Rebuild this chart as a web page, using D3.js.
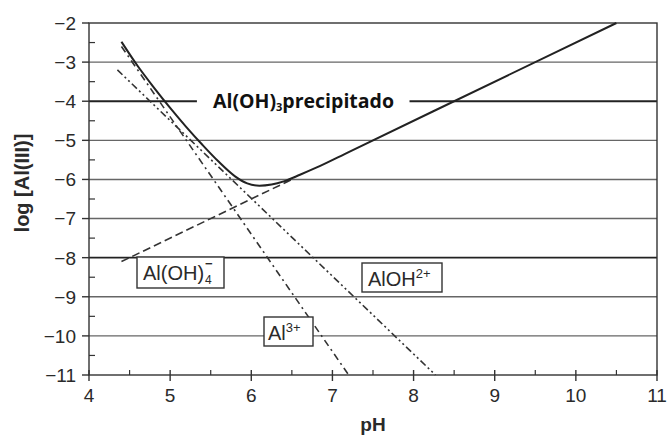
<!DOCTYPE html>
<html>
<head>
<meta charset="utf-8">
<script src="https://cdn.jsdelivr.net/npm/d3@7"></script>
<style>
  body { margin: 0; background: #fff; }
  svg { display: block; }
</style>
</head>
<body>
<svg width="668" height="436"></svg>
<script>
// data
var phTicks = [4, 5, 6, 7, 8, 9, 10, 11];
var phMinor = [4.5, 5.5, 6.5, 7.5, 8.5, 9.5, 10.5];
var logTicks = [-2, -3, -4, -5, -6, -7, -8, -9, -10, -11];
var logMinor = [-2.5, -3.5, -4.5, -5.5, -6.5, -7.5, -8.5, -9.5, -10.5];

// total solubility (solid)
var totalPH = [4.4, 4.6, 4.8, 5.0, 5.2, 5.4, 5.6, 5.8, 5.95, 6.1, 6.25, 6.4, 6.6, 6.8, 7.2, 10.5];
var totalLog = [-2.48, -3.1, -3.65, -4.17, -4.66, -5.12, -5.55, -5.92, -6.1, -6.16, -6.13, -6.05, -5.88, -5.7, -5.3, -2];
// Al3+ (dash-dot)
var al3PH = [4.4, 7.2];
var al3Log = [-2.6, -11];
// AlOH2+ (dash-dot-dot)
var aloh2PH = [4.35, 8.27];
var aloh2Log = [-3.2, -11];
// Al(OH)4- (dashed)
var aloh4PH = [4.4, 6.5];
var aloh4Log = [-8.1, -6.0];

var svg = d3.select("svg");
var x = d3.scaleLinear().domain([4, 11]).range([89, 657]);
var y = d3.scaleLinear().domain([-11, -2]).range([375, 23]);

var ink = "#2a2a2a";
var lf = "Liberation Sans, Arial, sans-serif";
var fmt = function(d) { return d < 0 ? "\u2212" + Math.abs(d) : d; };

// gridlines
logTicks.slice(1, -1).forEach(function(d) {
  var heavy = d === -4 || d === -8;
  var segs = d === -4 ? [[4, 5.33], [7.95, 11]] : [[4, 11]];
  segs.forEach(function(s) {
    svg.append("line")
      .attr("x1", x(s[0])).attr("x2", x(s[1]))
      .attr("y1", y(d)).attr("y2", y(d))
      .attr("stroke", heavy ? "#222" : "#666")
      .attr("stroke-width", heavy ? (d === -4 ? 2 : 1.8) : 1.4);
  });
});

// frame
svg.append("rect")
  .attr("x", x(4)).attr("y", y(-2))
  .attr("width", x(11) - x(4)).attr("height", y(-11) - y(-2))
  .attr("fill", "none").attr("stroke", "#333").attr("stroke-width", 1.4);

// y ticks
var ya = svg.append("g");
ya.selectAll(".maj").data(logTicks).join("line")
  .attr("x1", x(4) - 7).attr("x2", x(4))
  .attr("y1", function(d) { return y(d); }).attr("y2", function(d) { return y(d); })
  .attr("stroke", "#333").attr("stroke-width", 1.4);
ya.selectAll(".min").data(logMinor).join("line")
  .attr("x1", x(4)).attr("x2", x(4) + 6)
  .attr("y1", function(d) { return y(d); }).attr("y2", function(d) { return y(d); })
  .attr("stroke", "#333").attr("stroke-width", 1.2);
ya.selectAll("text").data(logTicks).join("text")
  .attr("x", x(4) - 13).attr("y", function(d) { return y(d); })
  .attr("dy", "0.36em").attr("text-anchor", "end")
  .attr("font-family", lf).attr("font-size", 19)
  .attr("fill", ink).text(fmt);

// x ticks
var xa = svg.append("g");
xa.selectAll(".maj").data(phTicks).join("line")
  .attr("x1", function(d) { return x(d); }).attr("x2", function(d) { return x(d); })
  .attr("y1", y(-11) - 5).attr("y2", y(-11) + 6)
  .attr("stroke", "#333").attr("stroke-width", 1.4);
xa.selectAll(".min").data(phMinor).join("line")
  .attr("x1", function(d) { return x(d); }).attr("x2", function(d) { return x(d); })
  .attr("y1", y(-11) - 5).attr("y2", y(-11))
  .attr("stroke", "#333").attr("stroke-width", 1.2);
xa.selectAll("text").data(phTicks).join("text")
  .attr("x", function(d) { return x(d); }).attr("y", 402)
  .attr("text-anchor", "middle")
  .attr("font-family", lf).attr("font-size", 19)
  .attr("fill", ink).text(fmt);

// axis titles
svg.append("text")
  .attr("x", x(7.5)).attr("y", 431).attr("text-anchor", "middle")
  .attr("font-family", lf).attr("font-size", 19)
  .attr("font-weight", "bold").attr("fill", ink).text("pH");
svg.append("text")
  .attr("transform", "translate(29,183) rotate(-90)").attr("text-anchor", "middle")
  .attr("font-family", lf).attr("font-size", 20)
  .attr("font-weight", "bold").attr("fill", ink).text("log [Al(III)]");

// curves
function pts(a, b) { return a.map(function(v, i) { return [v, b[i]]; }); }
var line = d3.line()
  .x(function(d) { return x(d[0]); })
  .y(function(d) { return y(d[1]); })
  .curve(d3.curveMonotoneX);

svg.append("path").datum(pts(aloh4PH, aloh4Log)).attr("d", line)
  .attr("fill", "none").attr("stroke", "#333").attr("stroke-width", 1.6)
  .attr("stroke-dasharray", "8,4");
svg.append("path").datum(pts(al3PH, al3Log)).attr("d", line)
  .attr("fill", "none").attr("stroke", "#333").attr("stroke-width", 1.6)
  .attr("stroke-dasharray", "7,4,2,4");
svg.append("path").datum(pts(aloh2PH, aloh2Log)).attr("d", line)
  .attr("fill", "none").attr("stroke", "#333").attr("stroke-width", 1.6)
  .attr("stroke-dasharray", "7,3,2,3,2,3");
svg.append("path").datum(pts(totalPH, totalLog)).attr("d", line)
  .attr("fill", "none").attr("stroke", "#222").attr("stroke-width", 2);

// precipitate label
var pt = svg.append("text")
  .attr("x", 213).attr("y", 108)
  .attr("font-family", "Open Sans, sans-serif").attr("font-size", 19.5)
  .attr("font-weight", "bold").attr("fill", "#111");
pt.append("tspan").text("Al(OH)");
pt.append("tspan").attr("font-size", 11).attr("dy", 3).text("3");
pt.append("tspan").attr("dy", -3).text("precipitado");

// species boxes
function box(x0, y0, x1, y1) {
  return svg.append("rect").attr("x", x0).attr("y", y0)
    .attr("width", x1 - x0).attr("height", y1 - y0)
    .attr("fill", "#fff").attr("stroke", "#333").attr("stroke-width", 1.4);
}

box(137, 257, 224, 288);
var t1 = svg.append("text").attr("x", 143).attr("y", 280)
  .attr("font-family", lf).attr("font-size", 20).attr("fill", ink);
t1.append("tspan").text("Al(OH)");
var w1 = t1.node().getComputedTextLength();
svg.append("text").attr("x", 143 + w1 + 1).attr("y", 284)
  .attr("font-family", lf).attr("font-size", 12).attr("fill", ink).text("4");
svg.append("text").attr("x", 143 + w1 + 1).attr("y", 268)
  .attr("font-family", lf).attr("font-size", 13).attr("font-weight", "bold").attr("fill", ink).text("\u2212");

box(362, 263, 442, 292);
var t2 = svg.append("text").attr("x", 368).attr("y", 286)
  .attr("font-family", lf).attr("font-size", 20).attr("fill", ink);
t2.append("tspan").text("AlOH");
t2.append("tspan").attr("font-size", 13).attr("dy", -8).text("2+");

box(264, 317, 313, 346);
var t3 = svg.append("text").attr("x", 268).attr("y", 340)
  .attr("font-family", lf).attr("font-size", 20).attr("fill", ink);
t3.append("tspan").text("Al");
t3.append("tspan").attr("font-size", 13).attr("dy", -8).text("3+");
</script>
</body>
</html>
